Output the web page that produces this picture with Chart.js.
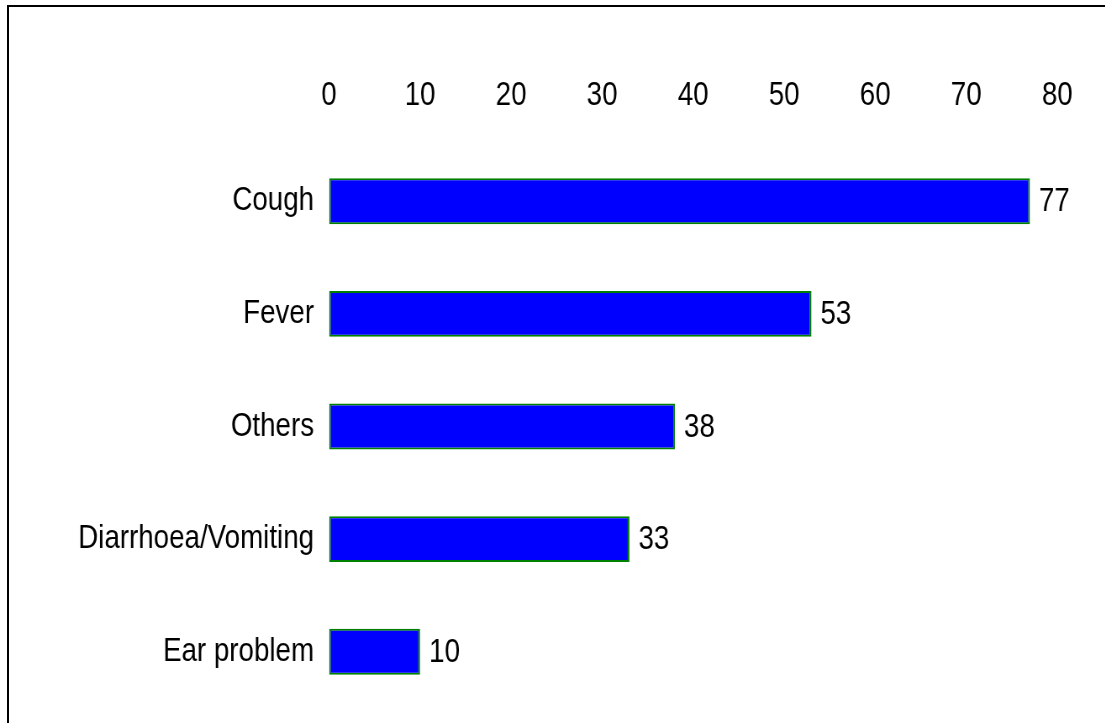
<!DOCTYPE html>
<html>
<head>
<meta charset="utf-8">
<script src="https://cdn.jsdelivr.net/npm/chart.js@4"></script>
<style>
  html, body { margin: 0; padding: 0; background: #ffffff; }
  #wrap { position: relative; width: 1106px; height: 723px; overflow: hidden; }
  #frame {
    position: absolute; left: 7px; top: 5px; right: 1px; bottom: -10px;
    border-top: 2px solid #000; border-left: 2px solid #000;
    pointer-events: none;
  }
  canvas { position: absolute; left: 0; top: 0; }
</style>
</head>
<body>
<div id="wrap">
  <canvas id="c"></canvas>
  <div id="frame"></div>
</div>
<script>
// Reported symptoms and number of cases
const categories = ['Cough', 'Fever', 'Others', 'Diarrhoea/Vomiting', 'Ear problem'];
const counts = [77, 53, 38, 33, 10];
const tickValues = [0, 10, 20, 30, 40, 50, 60, 70, 80];

const FONT_FAMILY = "'Liberation Sans', Arial, sans-serif";
const FONT_SIZE = 33;

// The canvas is drawn wider than it is shown, so the lettering comes out
// tall and narrow like a condensed face.
const SQUEEZE = 1.19;
const W = 1106, H = 723;
const canvas = document.getElementById('c');
canvas.width = Math.round(W * SQUEEZE);
canvas.height = H;
canvas.style.width = W + 'px';
canvas.style.height = H + 'px';

// Writes each count just past the end of its bar
const valueLabels = {
  id: 'valueLabels',
  afterDatasetsDraw(chart) {
    const ctx = chart.ctx;
    const meta = chart.getDatasetMeta(0);
    ctx.save();
    ctx.font = FONT_SIZE + 'px ' + FONT_FAMILY;
    ctx.fillStyle = '#000';
    ctx.textAlign = 'left';
    ctx.textBaseline = 'middle';
    meta.data.forEach((bar, i) => {
      ctx.fillText(String(chart.data.datasets[0].data[i]), bar.x + 9 * SQUEEZE, bar.y + 1);
    });
    ctx.restore();
  }
};

new Chart(canvas, {
  type: 'bar',
  data: {
    labels: categories,
    datasets: [{
      data: counts,
      backgroundColor: '#0000ff',
      borderColor: '#008000',
      borderWidth: 2,
      borderSkipped: false,
      barPercentage: 0.6,
      categoryPercentage: 0.68
    }]
  },
  options: {
    indexAxis: 'y',
    responsive: false,
    animation: false,
    devicePixelRatio: 1,
    layout: { padding: { top: 0, left: 0, right: Math.round(canvas.width - 1057 * SQUEEZE), bottom: 15 } },
    plugins: {
      legend: { display: false },
      tooltip: { enabled: false }
    },
    scales: {
      x: {
        position: 'top',
        min: 0,
        max: 80,
        afterBuildTicks(scale) {
          scale.ticks = tickValues.map(v => ({ value: v }));
        },
        afterFit(scale) { scale.height = 145; },
        grid: { display: false, drawTicks: false },
        border: { display: false },
        ticks: {
          color: '#000',
          padding: 29,
          font: { family: FONT_FAMILY, size: FONT_SIZE }
        }
      },
      y: {
        afterFit(scale) {
          scale.width = 329 * SQUEEZE;
          scale.paddingTop = 0;
          scale.paddingBottom = 0;
        },
        grid: { display: false, drawTicks: false },
        border: { display: false },
        ticks: {
          color: '#000',
          padding: 15 * SQUEEZE,
          font: { family: FONT_FAMILY, size: FONT_SIZE }
        }
      }
    }
  },
  plugins: [valueLabels]
});
</script>
</body>
</html>
